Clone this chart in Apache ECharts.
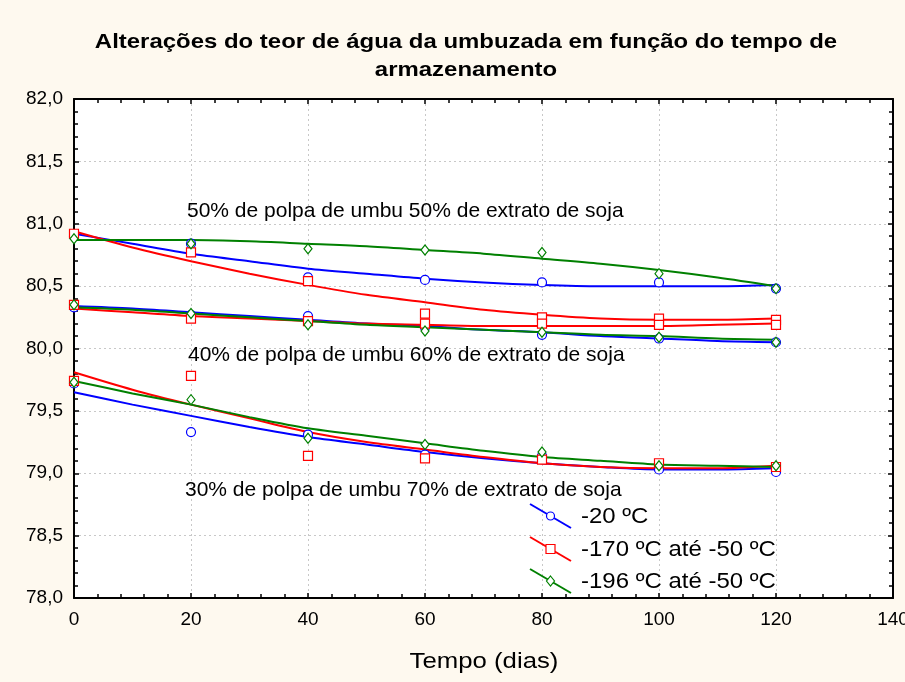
<!DOCTYPE html>
<html>
<head>
<meta charset="utf-8">
<script src="https://cdn.jsdelivr.net/npm/echarts@6/dist/echarts.min.js"></script>
<style>
  html, body { margin: 0; padding: 0; background: #FEF9EF; }
  #chart { width: 905px; height: 682px; }
</style>
</head>
<body>
<div id="chart"></div>
<script>
// Storage time (days) at which samples were measured
const dias = [0, 20, 40, 60, 80, 100, 120];

// Measured water content (%) — 50% pulp / 50% soy extract
const p50_m20  = [80.90, 80.84, 80.57, 80.55, 80.53, 80.53, 80.48];
const p50_m170 = [80.92, 80.77, 80.54, 80.28, 80.25, 80.24, 80.23];
const p50_m196 = [80.88, 80.84, 80.80, 80.79, 80.77, 80.60, 80.48];
// 40% pulp / 60% soy extract
const p40_m20  = [80.33, 80.27, 80.26, 80.17, 80.11, 80.08, 80.05];
const p40_m170 = [80.35, 80.24, 80.22, 80.20, 80.20, 80.19, 80.19];
const p40_m196 = [80.35, 80.28, 80.19, 80.14, 80.13, 80.09, 80.05];
// 30% pulp / 70% soy extract
const p30_m20  = [79.72, 79.33, 79.31, 79.15, 79.14, 79.03, 79.01];
const p30_m170 = [79.74, 79.78, 79.14, 79.12, 79.11, 79.08, 79.05];
const p30_m196 = [79.73, 79.59, 79.28, 79.23, 79.17, 79.06, 79.06];

// Fitted curves, sampled every 10 days
const diasCurva = [0, 10, 20, 30, 40, 50, 60, 70, 80, 90, 100, 110, 120];
const f50_m20  = [80.92, 80.84, 80.76, 80.70, 80.64, 80.60, 80.56, 80.53, 80.51, 80.50, 80.50, 80.50, 80.51];
const f50_m170 = [80.94, 80.81, 80.70, 80.60, 80.51, 80.43, 80.37, 80.31, 80.27, 80.24, 80.23, 80.23, 80.24];
const f50_m196 = [80.87, 80.87, 80.87, 80.86, 80.84, 80.82, 80.79, 80.76, 80.72, 80.68, 80.63, 80.57, 80.50];
const f40_m20  = [80.34, 80.32, 80.29, 80.26, 80.23, 80.20, 80.18, 80.15, 80.13, 80.10, 80.08, 80.06, 80.05];
const f40_m170 = [80.32, 80.29, 80.26, 80.24, 80.22, 80.20, 80.19, 80.18, 80.18, 80.18, 80.18, 80.19, 80.20];
const f40_m196 = [80.33, 80.31, 80.28, 80.25, 80.22, 80.19, 80.17, 80.15, 80.13, 80.11, 80.10, 80.08, 80.07];
const f30_m20  = [79.65, 79.55, 79.46, 79.37, 79.29, 79.23, 79.17, 79.12, 79.08, 79.05, 79.03, 79.03, 79.04];
const f30_m170 = [79.81, 79.67, 79.55, 79.44, 79.33, 79.25, 79.19, 79.13, 79.08, 79.05, 79.04, 79.04, 79.06];
const f30_m196 = [79.74, 79.64, 79.55, 79.45, 79.36, 79.30, 79.24, 79.18, 79.13, 79.10, 79.07, 79.06, 79.05];

const tempLabels = ['-20 ºC', '-170 ºC até -50 ºC', '-196 ºC até -50 ºC'];
const groupLabels = [
  '50% de polpa de umbu 50% de extrato de soja',
  '40% de polpa de umbu 60% de extrato de soja',
  '30% de polpa de umbu 70% de extrato de soja'
];
const titleText = 'Alterações do teor de água da umbuzada em função do tempo de\narmazenamento';
const xName = 'Tempo (dias)';

const BLUE = '#0000FF', RED = '#FF0000', GREEN = '#008000';
const FONT = '"Liberation Sans", Arial, sans-serif';

const styles = [
  { color: BLUE,  symbol: 'circle',  size: 9 },
  { color: RED,   symbol: 'rect',    size: 9 },
  { color: GREEN, symbol: 'diamond', size: [8, 10] }
];

const pointSets = [
  [p50_m20, p50_m170, p50_m196],
  [p40_m20, p40_m170, p40_m196],
  [p30_m20, p30_m170, p30_m196]
];
const fitSets = [
  [f50_m20, f50_m170, f50_m196],
  [f40_m20, f40_m170, f40_m196],
  [f30_m20, f30_m170, f30_m196]
];

const pairs = (xs, ys) => xs.map((d, i) => [d, ys[i]]);

const series = [];
fitSets.forEach(group => group.forEach((arr, k) => {
  series.push({
    type: 'line', data: pairs(diasCurva, arr), smooth: 0.3,
    showSymbol: false, silent: true, z: 2,
    lineStyle: { color: styles[k].color, width: 2 }
  });
}));
pointSets.forEach(group => group.forEach((arr, k) => {
  series.push({
    type: 'scatter', data: pairs(dias, arr), z: 3,
    symbol: styles[k].symbol, symbolSize: styles[k].size,
    itemStyle: { color: '#FFFFFF', borderColor: styles[k].color, borderWidth: 1.2, opacity: 1 }
  });
}));

const gridLine = { show: true, lineStyle: { color: '#C8C8C8', type: [2, 3], width: 1 } };
const tickBase = { show: true, inside: true, length: 5, lineStyle: { color: '#000', width: 1.5 } };
const minorBase = { show: true, splitNumber: 5, length: 4, lineStyle: { color: '#000', width: 1.5 } };
const axisLine = { show: true, onZero: false, lineStyle: { color: '#000', width: 2 } };

// Legend: slanted line segments with the marker in the middle
const legendGraphics = [];
const legX0 = 530, legX1 = 571, legTop = [504, 537, 569];
styles.forEach((s, k) => {
  const y0 = legTop[k], y1 = y0 + 24, cx = 550.5, cy = y0 + 12;
  legendGraphics.push({ type: 'line', shape: { x1: legX0, y1: y0, x2: legX1, y2: y1 },
    style: { stroke: s.color, lineWidth: 2 }, z: 10 });
  let shape;
  if (k === 0) shape = { type: 'circle', shape: { cx: cx, cy: cy, r: 4 } };
  else if (k === 1) shape = { type: 'rect', shape: { x: cx - 4.5, y: cy - 4.5, width: 9, height: 9 } };
  else shape = { type: 'polygon', shape: { points: [[cx, cy - 5], [cx + 4, cy], [cx, cy + 5], [cx - 4, cy]] } };
  legendGraphics.push(Object.assign(shape, { style: { fill: '#FFFFFF', stroke: s.color, lineWidth: 1.2 }, z: 11 }));
  legendGraphics.push({ type: 'text', x: 581, y: cy + 1, scaleX: 1.09, z: 11,
    style: { text: tempLabels[k], font: '22px ' + FONT, fill: '#000', textVerticalAlign: 'middle', textAlign: 'left' } });
});

// Labels naming each formulation group
const groupLabelPos = [[187, 211], [188, 355], [185, 490]];
const annotationGraphics = groupLabels.map((t, i) => ({
  type: 'text', x: groupLabelPos[i][0], y: groupLabelPos[i][1], z: 9,
  style: { text: t, font: '21px ' + FONT, fill: '#000', textVerticalAlign: 'middle', textAlign: 'left' }
}));

const textGraphics = [
  { type: 'text', x: 466, y: 28, scaleX: 1.14, z: 12,
    style: { text: titleText, font: 'bold 21px ' + FONT, lineHeight: 28, fill: '#000', textAlign: 'center', textVerticalAlign: 'top' } },
  { type: 'text', x: 484, y: 662, scaleX: 1.17, z: 12,
    style: { text: xName, font: '22px ' + FONT, fill: '#000', textAlign: 'center', textVerticalAlign: 'middle' } }
];

const chart = echarts.init(document.getElementById('chart'), null, { renderer: 'canvas' });
chart.setOption({
  backgroundColor: '#FEF9EF',
  animation: false,
  grid: { left: 74, right: 12, top: 99, bottom: 84, show: true, backgroundColor: '#FFFFFF', borderWidth: 0,
          outerBoundsMode: 'none', containLabel: false },
  xAxis: [
    {
      type: 'value', min: 0, max: 140, interval: 20, position: 'bottom',
      axisLine: axisLine, axisTick: tickBase, minorTick: minorBase, splitLine: gridLine,
      axisLabel: { fontFamily: FONT, fontSize: 19, color: '#000', margin: 12 }
    },
    {
      type: 'value', min: 0, max: 140, interval: 20, position: 'top',
      axisLine: axisLine, axisTick: tickBase, minorTick: minorBase,
      splitLine: { show: false }, axisLabel: { show: false }
    }
  ],
  yAxis: [
    {
      type: 'value', min: 78, max: 82, interval: 0.5, position: 'left',
      axisLine: axisLine, axisTick: tickBase, minorTick: minorBase, splitLine: gridLine,
      axisLabel: { fontFamily: FONT, fontSize: 19, color: '#000', margin: 11,
        formatter: v => v.toFixed(1).replace('.', ',') }
    },
    {
      type: 'value', min: 78, max: 82, interval: 0.5, position: 'right',
      axisLine: axisLine, axisTick: tickBase, minorTick: minorBase,
      splitLine: { show: false }, axisLabel: { show: false }
    }
  ],
  graphic: textGraphics.concat(annotationGraphics, legendGraphics),
  series: series
});
</script>
</body>
</html>
